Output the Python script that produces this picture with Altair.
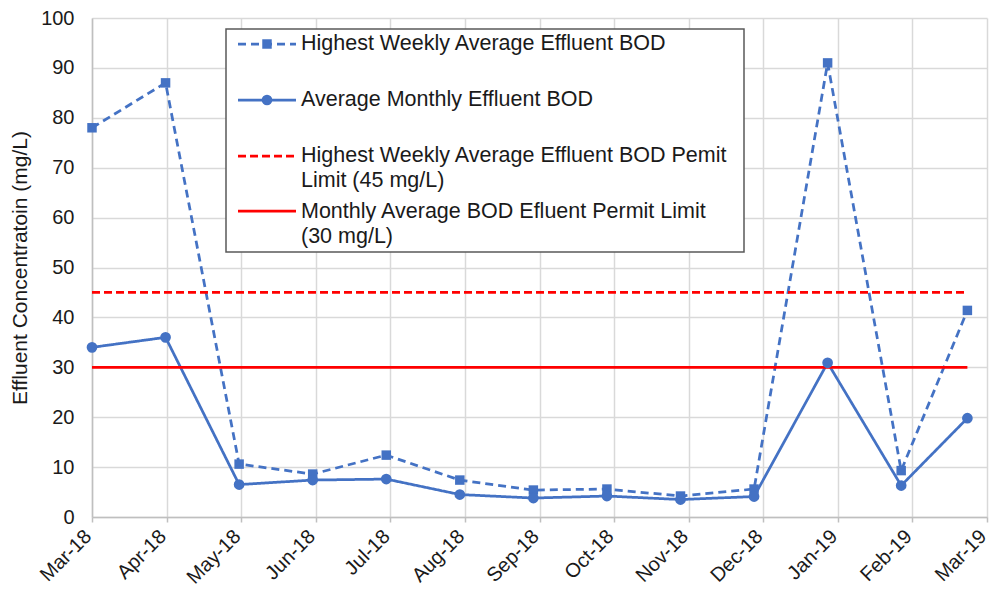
import json
import altair as alt
import pandas as pd

# ---------------- data ----------------
tick_labels = ["Mar-18", "Apr-18", "May-18", "Jun-18", "Jul-18", "Aug-18", "Sep-18",
               "Oct-18", "Nov-18", "Dec-18", "Jan-19", "Feb-19", "Mar-19"]
sample_dates = ["2018-03-01", "2018-03-31", "2018-04-30", "2018-05-30", "2018-06-29",
                "2018-07-29", "2018-08-28", "2018-09-27", "2018-10-27", "2018-11-26",
                "2018-12-26", "2019-01-25", "2019-02-21"]
weekly_bod = [78, 87, 10.6, 8.6, 12.4, 7.4, 5.4, 5.6, 4.2, 5.6, 91, 9.3, 41.4]
monthly_bod = [34, 36, 6.5, 7.4, 7.6, 4.5, 3.8, 4.2, 3.5, 4.1, 30.9, 6.3, 19.8]
weekly_limit = [45, 45, 45, 45, 45, 45, 45, 45, 45, 45, 45, 45, 45]
monthly_limit = [30, 30, 30, 30, 30, 30, 30, 30, 30, 30, 30, 30, 30]

series_names = ["Highest Weekly Average Effluent BOD",
                "Average Monthly Effluent BOD",
                "Highest Weekly Average Effluent BOD Pemit Limit (45 mg/L)",
                "Monthly Average BOD Efluent Permit Limit (30 mg/L)"]
legend_lines = [["Highest Weekly Average Effluent BOD"],
                ["Average Monthly Effluent BOD"],
                ["Highest Weekly Average Effluent BOD Pemit", "Limit (45 mg/L)"],
                ["Monthly Average BOD Efluent Permit Limit", "(30 mg/L)"]]

BLUE = "#4472C4"
RED = "#FF0000"
FONT = "Liberation Sans"

start = pd.Timestamp("2018-03-01")
end = pd.Timestamp("2019-03-01")
span_days = (end - start).days
days = [(pd.Timestamp(d) - start).days for d in sample_dates]

rows = []
for name, vals in zip(series_names, [weekly_bod, monthly_bod, weekly_limit, monthly_limit]):
    for d, v in zip(days, vals):
        rows.append({"day": d, "value": v, "series": name})
df = pd.DataFrame(rows)

tick_vals = [i * span_days / 12 for i in range(13)]
label_expr = json.dumps(tick_labels) + "[round(datum.value / " + str(span_days / 12) + ")]"

x_enc = alt.X("day:Q",
              scale=alt.Scale(domain=[0, span_days], nice=False, zero=False),
              axis=alt.Axis(values=tick_vals, labelExpr=label_expr, labelAngle=-45,
                            title=None, grid=True, tickSize=5, labelPadding=11, labelOffset=-4,
                            labelAlign="right", labelBaseline="middle"))
y_enc = alt.Y("value:Q",
              scale=alt.Scale(domain=[0, 100], nice=False),
              axis=alt.Axis(values=list(range(0, 101, 10)), title="Effluent Concentratoin (mg/L)",
                            grid=True, ticks=False, labelPadding=18, titlePadding=10))

base = alt.Chart(df)

lines = base.mark_line(strokeWidth=2.75).encode(
    x=x_enc, y=y_enc,
    color=alt.Color("series:N", scale=alt.Scale(domain=series_names, range=[BLUE, BLUE, RED, RED]), legend=None),
    strokeDash=alt.StrokeDash("series:N",
                              scale=alt.Scale(domain=series_names, range=[[8, 5], [1, 0], [8, 4], [1, 0]]),
                              legend=None),
)

points = base.transform_filter(
    alt.FieldOneOfPredicate(field="series", oneOf=series_names[:2])
).mark_point(filled=True, opacity=1, color=BLUE).encode(
    x=x_enc, y=y_enc,
    shape=alt.Shape("series:N", scale=alt.Scale(domain=series_names[:2], range=["square", "circle"]), legend=None),
    size=alt.Size("series:N", scale=alt.Scale(domain=series_names[:2], range=[90, 115]), legend=None),
)

# ---------------- legend (drawn inside the plot) ----------------
one = pd.DataFrame({"k": [0]})
lg = alt.Chart(one)
legend_box = lg.mark_rect(fill="white", stroke="#595959", strokeWidth=1.5).encode(
    x=alt.value(134), x2=alt.value(652), y=alt.value(11), y2=alt.value(234))

sym_y = [26, 82, 138, 193]
sym_layers = [
    lg.mark_rule(color=BLUE, strokeWidth=2.75, strokeDash=[8, 5]).encode(
        x=alt.value(146), x2=alt.value(204), y=alt.value(sym_y[0])),
    lg.mark_point(shape="square", filled=True, opacity=1, color=BLUE, size=90).encode(
        x=alt.value(175), y=alt.value(sym_y[0])),
    lg.mark_rule(color=BLUE, strokeWidth=2.75).encode(
        x=alt.value(146), x2=alt.value(204), y=alt.value(sym_y[1])),
    lg.mark_point(shape="circle", filled=True, opacity=1, color=BLUE, size=115).encode(
        x=alt.value(175), y=alt.value(sym_y[1])),
    lg.mark_rule(color=RED, strokeWidth=2.75, strokeDash=[8, 4]).encode(
        x=alt.value(146), x2=alt.value(204), y=alt.value(sym_y[2])),
    lg.mark_rule(color=RED, strokeWidth=2.75).encode(
        x=alt.value(146), x2=alt.value(204), y=alt.value(sym_y[3])),
]
text_y = [26, 82, 138, 194]
text_layers = []
for lines_txt, ty in zip(legend_lines, text_y):
    txt = lines_txt if len(lines_txt) > 1 else lines_txt[0]
    text_layers.append(
        lg.mark_text(align="left", baseline="middle", font=FONT, fontSize=21.5,
                     color="#1a1a1a", lineHeight=24.5).encode(
            x=alt.value(209), y=alt.value(ty), text=alt.value(txt)))

chart = alt.layer(lines, points, legend_box, *sym_layers, *text_layers).properties(
    width=895, height=499,
    padding={"left": 84, "top": 10, "right": 3, "bottom": 70},
    autosize=alt.AutoSizeParams(type="none"),
).configure_view(stroke=None).configure_axis(
    labelFont=FONT, labelFontSize=20, labelColor="#1a1a1a",
    titleFont=FONT, titleFontSize=21, titleColor="#1a1a1a", titleFontWeight="normal",
    gridColor="#d9d9d9", gridWidth=1.5, domainColor="#bfbfbf", domainWidth=1.5,
    tickColor="#bfbfbf", tickWidth=1.5,
)

chart.save("out.html", embed_options={"renderer": "svg", "actions": False})
